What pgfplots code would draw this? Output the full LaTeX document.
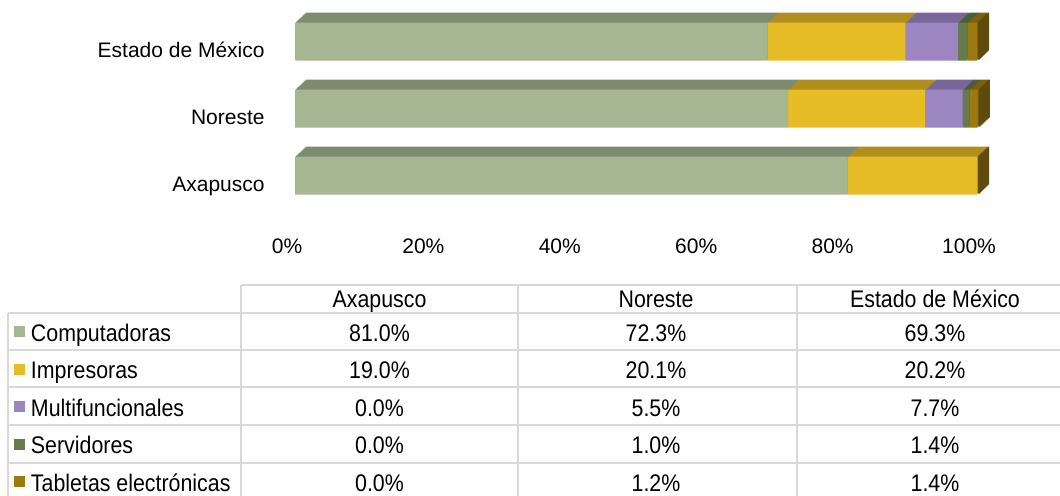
\documentclass[border=0pt]{standalone}
\usepackage{fontspec}
\setmainfont{Liberation Sans}
\newfontfamily\tabfont{Liberation Sans}[FakeStretch=0.89]
\usepackage{pgfplots}
\usepackage{pgfplotstable}
\pgfplotsset{compat=1.18}

\definecolor{compF}{HTML}{A6B592}
\definecolor{compT}{HTML}{7F8B6F}
\definecolor{imprF}{HTML}{E6BC27}
\definecolor{imprT}{HTML}{B18F1E}
\definecolor{multF}{HTML}{9B86C1}
\definecolor{multT}{HTML}{7A6698}
\definecolor{servF}{HTML}{667A4B}
\definecolor{servT}{HTML}{4E5D39}
\definecolor{tabF}{HTML}{9C7A10}
\definecolor{tabT}{HTML}{7B600D}
\definecolor{sideC}{HTML}{5E4A0C}
\definecolor{tline}{HTML}{D9D9D9}

% region: 0 = Axapusco, 1 = Noreste, 2 = Estado de Mexico
\pgfplotstableread{
region comp impr multi serv tab
0 81.0 19.0 0.0 0.0 0.0
1 72.3 20.1 5.5 1.0 1.2
2 69.3 20.2 7.7 1.4 1.4
}\data

\pgfplotsset{
  bars/.style={xbar stacked, bar width=19pt, width=341pt, height=100.35pt,
    scale only axis, xmin=0, xmax=100, ymin=-0.5, ymax=2.5,
    anchor=south west, axis line style={draw=none}, tick style={draw=none},
    clip=false},
  back/.style={bars, hide axis},
}

\begin{document}
\begin{tikzpicture}
\useasboundingbox (0,0) rectangle (530pt,-247.5pt);

% depth (top and side faces) drawn as shifted copies
\foreach \k in {10,9,...,1} {
\begin{axis}[back, at={(147.5pt+0.525pt*\k,-104.475pt+0.5pt*\k)}]
  \addplot[fill=compT, draw=none] table[x=comp, y=region]{\data};
  \addplot[fill=imprT, draw=none] table[x=impr, y=region]{\data};
  \addplot[fill=multT, draw=none] table[x=multi, y=region]{\data};
  \addplot[fill=servT, draw=none] table[x=serv, y=region]{\data};
  \addplot[fill=tabT, draw=none] table[x=tab, y=region]{\data};
  \addplot[fill=sideC, draw=none] coordinates {(0.25,0) (0.25,1) (0.25,2)};
\end{axis}
}

% front faces
\begin{axis}[bars, at={(147.5pt,-104.475pt)},
  xtick={0,20,40,60,80,100},
  xticklabels={0\%,20\%,40\%,60\%,80\%,100\%},
  ytick={0,1,2},
  yticklabels={Axapusco,Noreste,Estado de México},
  ticklabel style={font=\fontsize{10.5pt}{12pt}\selectfont, inner sep=0pt},
  xticklabel style={anchor=base, yshift=-22.3pt, xshift=-4pt},
  yticklabel style={anchor=base east, xshift=-15pt, yshift=-8.1pt},
]
  \addplot[fill=compF, draw=none] table[x=comp, y=region]{\data};
  \addplot[fill=imprF, draw=none] table[x=impr, y=region]{\data};
  \addplot[fill=multF, draw=none] table[x=multi, y=region]{\data};
  \addplot[fill=servF, draw=none] table[x=serv, y=region]{\data};
  \addplot[fill=tabF, draw=none] table[x=tab, y=region]{\data};
\end{axis}

% data table
\begin{scope}[x=0.5pt, y=-0.5pt, line width=1pt,
  every node/.style={font=\tabfont\fontsize{12pt}{14pt}\selectfont, inner sep=0pt}]
  \draw[tline] (241,285) -- (1060,285);
  \foreach \yy in {312.5,349.5,387.3,425,462.7}
    \draw[tline] (7.5,\yy) -- (1060,\yy);
  \draw[tline] (241,285) -- (241,500);
  \draw[tline] (518,285) -- (518,500);
  \draw[tline] (797,285) -- (797,500);
  \draw[tline] (7.5,312.5) -- (7.5,500);
  \node[anchor=base] at (379.5,307) {Axapusco};
  \node[anchor=base] at (656,307) {Noreste};
  \node[anchor=base] at (935,307) {Estado de México};
  \foreach \col/\name/\colr [count=\i from 0] in
    {comp/Computadoras/compF, impr/Impresoras/imprF,
     multi/Multifuncionales/multF, serv/Servidores/servF,
     tab/Tabletas electrónicas/tabF} {
    \pgfmathsetmacro\yb{341+37.6*\i}
    \fill[\colr] (14,\yb-15) rectangle (25,\yb-4);
    \node[anchor=base west] at (30,\yb) {\name};
    \foreach \r/\cx in {0/379.5,1/656,2/935} {
      \node[anchor=base] at (\cx,\yb)
        {\pgfplotstablegetelem{\r}{\col}\of\data\pgfmathprintnumber[fixed,fixed zerofill,precision=1,assume math mode=true]{\pgfplotsretval}\%};
    }
  }
\end{scope}
\end{tikzpicture}
\end{document}
